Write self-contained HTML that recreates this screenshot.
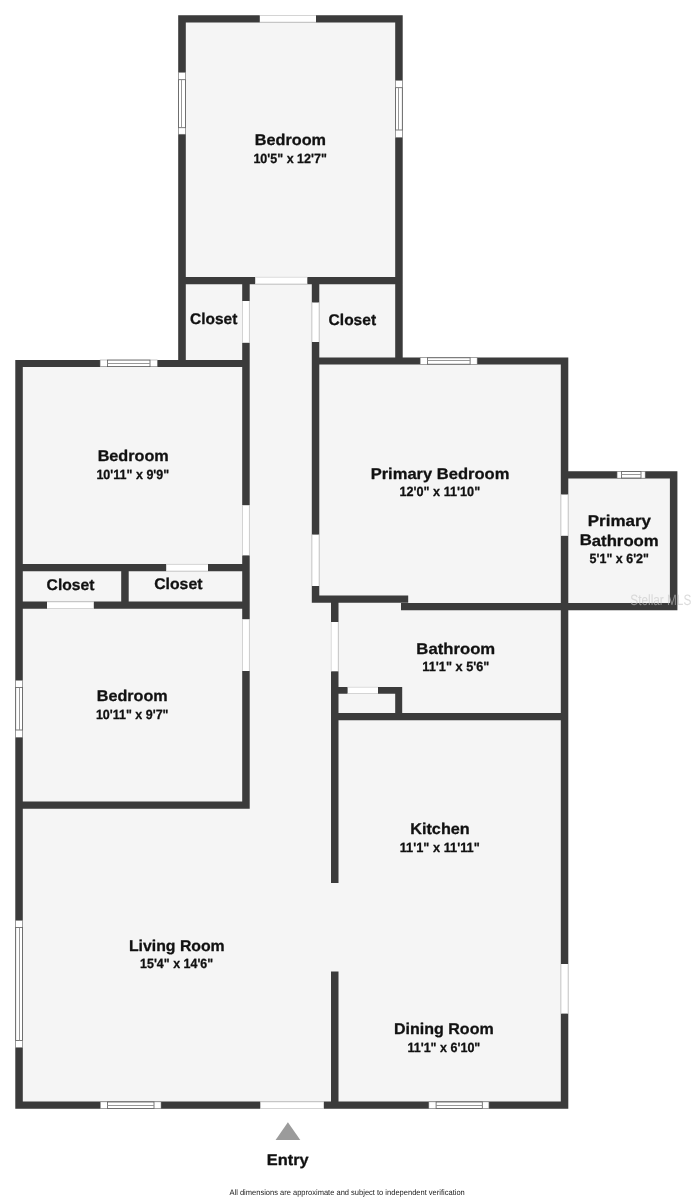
<!DOCTYPE html>
<html lang="en"><head><meta charset="utf-8"><title>Floor Plan</title>
<style>
html,body{margin:0;padding:0;background:#fff}
body{width:693px;height:1200px;overflow:hidden}
svg{display:block}
.t{font-family:"Liberation Sans","DejaVu Sans",sans-serif;font-weight:700;fill:#111;stroke:#111;stroke-width:.3px;stroke-linejoin:round}
.f{font-family:"Liberation Sans","DejaVu Sans",sans-serif;font-weight:400;fill:#222}
.wm{font-family:"Liberation Sans","DejaVu Sans",sans-serif;font-weight:400;fill:#c4c4c4;fill-opacity:.6}
</style></head><body>
<svg width="693" height="1200" viewBox="0 0 693 1200" shape-rendering="auto">
<rect width="693" height="1200" fill="#fff"/>
<polygon fill="#f5f5f5" points="178.2,15.2 402.4,15.2 402.4,357.4 568,357.4 568,471.2 677.1,471.2 677.1,610.3 568,610.3 568,1108.8 15.3,1108.8 15.3,360.0 178.2,360.0"/>
<path fill="#3b3b3b" d="M178.2 15.2H402.4V22.4H178.2ZM178.2 15.2H185.8V367.0H178.2ZM395.2 15.2H402.7V364.6H395.2ZM178.2 277.0H402.4V284.2H178.2ZM242.2 284.0H249.7V808.8H242.2ZM311.8 284.0H319.3V602.7H311.8ZM15.3 360.0H249.4V367.0H15.3ZM15.3 360.0H22.8V1108.8H15.3ZM15.3 564.1H249.4V571.3H15.3ZM15.3 601.6H249.4V608.8H15.3ZM121.2 564.1H128.7V608.8H121.2ZM15.3 801.6H249.5V808.8H15.3ZM311.8 357.4H568.0V364.6H311.8ZM560.8 357.4H568.3V1108.8H560.8ZM568.0 471.2H677.1V478.4H568.0ZM669.9 471.2H677.4V610.3H669.9ZM401.0 603.1H677.1V610.3H401.0ZM311.8 595.5H408.2V602.7H311.8ZM331.0 602.7H338.5V882.9H331.0ZM338.0 687.0H401.9V693.8H338.0ZM395.2 687.0H402.2V713.0H395.2ZM331.0 713.0H568.0V720.2H331.0ZM331.0 971.5H338.5V1108.8H331.0ZM15.3 1101.6H568.0V1108.8H15.3Z"/>
<rect x="259.8" y="15.2" width="56.2" height="7.2" fill="#fff"/>
<line x1="259.8" y1="15.5" x2="316.0" y2="15.5" stroke="#cfcfcf" stroke-width="0.7"/>
<line x1="259.8" y1="22.1" x2="316.0" y2="22.1" stroke="#cfcfcf" stroke-width="0.7"/>
<rect x="255.2" y="277.0" width="52.1" height="7.2" fill="#fff"/>
<line x1="255.2" y1="277.3" x2="307.3" y2="277.3" stroke="#cfcfcf" stroke-width="0.7"/>
<line x1="255.2" y1="283.9" x2="307.3" y2="283.9" stroke="#cfcfcf" stroke-width="0.7"/>
<rect x="242.2" y="301.0" width="7.5" height="41.8" fill="#fff"/>
<line x1="242.5" y1="301.0" x2="242.5" y2="342.8" stroke="#cfcfcf" stroke-width="0.7"/>
<line x1="249.4" y1="301.0" x2="249.4" y2="342.8" stroke="#cfcfcf" stroke-width="0.7"/>
<rect x="242.2" y="505.2" width="7.5" height="50.2" fill="#fff"/>
<line x1="242.5" y1="505.2" x2="242.5" y2="555.4" stroke="#cfcfcf" stroke-width="0.7"/>
<line x1="249.4" y1="505.2" x2="249.4" y2="555.4" stroke="#cfcfcf" stroke-width="0.7"/>
<rect x="242.2" y="619.2" width="7.5" height="51.8" fill="#fff"/>
<line x1="242.5" y1="619.2" x2="242.5" y2="671.0" stroke="#cfcfcf" stroke-width="0.7"/>
<line x1="249.4" y1="619.2" x2="249.4" y2="671.0" stroke="#cfcfcf" stroke-width="0.7"/>
<rect x="311.8" y="302.5" width="7.5" height="39.5" fill="#fff"/>
<line x1="312.1" y1="302.5" x2="312.1" y2="342.0" stroke="#cfcfcf" stroke-width="0.7"/>
<line x1="319.0" y1="302.5" x2="319.0" y2="342.0" stroke="#cfcfcf" stroke-width="0.7"/>
<rect x="311.8" y="534.6" width="7.5" height="51.4" fill="#fff"/>
<line x1="312.1" y1="534.6" x2="312.1" y2="586.0" stroke="#cfcfcf" stroke-width="0.7"/>
<line x1="319.0" y1="534.6" x2="319.0" y2="586.0" stroke="#cfcfcf" stroke-width="0.7"/>
<rect x="166.2" y="564.1" width="41.8" height="7.2" fill="#fff"/>
<line x1="166.2" y1="564.4" x2="208.0" y2="564.4" stroke="#cfcfcf" stroke-width="0.7"/>
<line x1="166.2" y1="571.0" x2="208.0" y2="571.0" stroke="#cfcfcf" stroke-width="0.7"/>
<rect x="47.0" y="601.6" width="46.8" height="7.2" fill="#fff"/>
<line x1="47.0" y1="601.9" x2="93.8" y2="601.9" stroke="#cfcfcf" stroke-width="0.7"/>
<line x1="47.0" y1="608.5" x2="93.8" y2="608.5" stroke="#cfcfcf" stroke-width="0.7"/>
<rect x="560.8" y="494.5" width="7.5" height="41.3" fill="#fff"/>
<line x1="561.1" y1="494.5" x2="561.1" y2="535.8" stroke="#cfcfcf" stroke-width="0.7"/>
<line x1="568.0" y1="494.5" x2="568.0" y2="535.8" stroke="#cfcfcf" stroke-width="0.7"/>
<rect x="560.8" y="964.0" width="7.5" height="49.6" fill="#fff"/>
<line x1="561.1" y1="964.0" x2="561.1" y2="1013.6" stroke="#cfcfcf" stroke-width="0.7"/>
<line x1="568.0" y1="964.0" x2="568.0" y2="1013.6" stroke="#cfcfcf" stroke-width="0.7"/>
<rect x="331.0" y="622.0" width="7.5" height="49.3" fill="#fff"/>
<line x1="331.3" y1="622.0" x2="331.3" y2="671.3" stroke="#cfcfcf" stroke-width="0.7"/>
<line x1="338.2" y1="622.0" x2="338.2" y2="671.3" stroke="#cfcfcf" stroke-width="0.7"/>
<rect x="347.6" y="687.0" width="30.4" height="6.8" fill="#fff"/>
<line x1="347.6" y1="687.3" x2="378.0" y2="687.3" stroke="#cfcfcf" stroke-width="0.7"/>
<line x1="347.6" y1="693.5" x2="378.0" y2="693.5" stroke="#cfcfcf" stroke-width="0.7"/>
<rect x="260.3" y="1101.6" width="63.5" height="7.2" fill="#fff"/>
<line x1="260.3" y1="1101.9" x2="323.8" y2="1101.9" stroke="#cfcfcf" stroke-width="0.7"/>
<line x1="260.3" y1="1108.5" x2="323.8" y2="1108.5" stroke="#cfcfcf" stroke-width="0.7"/>
<rect x="178.5" y="72.5" width="7.0" height="61.7" fill="#fff" stroke="#8a8a8a" stroke-width="0.5"/>
<rect x="178.6" y="79.7" width="6.8" height="48.0" fill="#fff" stroke="#5a5a5a" stroke-width="0.8"/>
<line x1="181.5" y1="79.7" x2="181.5" y2="127.7" stroke="#8c8c8c" stroke-width="0.9"/>
<rect x="395.5" y="80.5" width="6.9" height="56.9" fill="#fff" stroke="#8a8a8a" stroke-width="0.5"/>
<rect x="395.6" y="87.7" width="6.7" height="42.3" fill="#fff" stroke="#5a5a5a" stroke-width="0.8"/>
<line x1="398.5" y1="87.7" x2="398.5" y2="130.0" stroke="#8c8c8c" stroke-width="0.9"/>
<rect x="100.1" y="360.0" width="57.2" height="6.7" fill="#fff" stroke="#8a8a8a" stroke-width="0.5"/>
<rect x="107.4" y="360.1" width="42.6" height="6.5" fill="#fff" stroke="#5a5a5a" stroke-width="0.8"/>
<line x1="107.4" y1="363.5" x2="150.0" y2="363.5" stroke="#8c8c8c" stroke-width="0.9"/>
<rect x="15.6" y="680.4" width="6.9" height="56.9" fill="#fff" stroke="#8a8a8a" stroke-width="0.5"/>
<rect x="15.7" y="687.6" width="6.7" height="42.4" fill="#fff" stroke="#5a5a5a" stroke-width="0.8"/>
<line x1="19.5" y1="687.6" x2="19.5" y2="730.0" stroke="#8c8c8c" stroke-width="0.9"/>
<rect x="15.6" y="920.5" width="6.9" height="127.0" fill="#fff" stroke="#8a8a8a" stroke-width="0.5"/>
<rect x="15.7" y="927.6" width="6.7" height="113.0" fill="#fff" stroke="#5a5a5a" stroke-width="0.8"/>
<line x1="19.5" y1="927.6" x2="19.5" y2="1040.6" stroke="#8c8c8c" stroke-width="0.9"/>
<rect x="420.2" y="357.7" width="56.9" height="6.6" fill="#fff" stroke="#8a8a8a" stroke-width="0.5"/>
<rect x="427.4" y="357.8" width="42.7" height="6.4" fill="#fff" stroke="#5a5a5a" stroke-width="0.8"/>
<line x1="427.4" y1="360.5" x2="470.1" y2="360.5" stroke="#8c8c8c" stroke-width="0.9"/>
<rect x="617.1" y="471.5" width="28.0" height="6.6" fill="#fff" stroke="#8a8a8a" stroke-width="0.5"/>
<rect x="621.4" y="471.6" width="19.6" height="6.4" fill="#fff" stroke="#5a5a5a" stroke-width="0.8"/>
<line x1="621.4" y1="474.5" x2="641.0" y2="474.5" stroke="#8c8c8c" stroke-width="0.9"/>
<rect x="100.4" y="1101.9" width="60.6" height="6.6" fill="#fff" stroke="#8a8a8a" stroke-width="0.5"/>
<rect x="107.5" y="1102.0" width="46.5" height="6.4" fill="#fff" stroke="#5a5a5a" stroke-width="0.8"/>
<line x1="107.5" y1="1105.5" x2="154.0" y2="1105.5" stroke="#8c8c8c" stroke-width="0.9"/>
<rect x="428.9" y="1101.9" width="60.0" height="6.6" fill="#fff" stroke="#8a8a8a" stroke-width="0.5"/>
<rect x="436.1" y="1102.0" width="46.2" height="6.4" fill="#fff" stroke="#5a5a5a" stroke-width="0.8"/>
<line x1="436.1" y1="1105.5" x2="482.3" y2="1105.5" stroke="#8c8c8c" stroke-width="0.9"/>
<polygon fill="#9b9b9b" points="287.9,1122.2 300.3,1140 275.6,1140"/>
<g style="filter:grayscale(1)" text-rendering="geometricPrecision">
<text class="t" x="254.76" y="145.4" transform="rotate(0.02 254.8 145.4)" font-size="15.5" textLength="71.23" lengthAdjust="spacingAndGlyphs">Bedroom</text>
<text class="t" x="253.42" y="163.3" transform="rotate(0.02 253.4 163.3)" font-size="13.3" textLength="73.43" lengthAdjust="spacingAndGlyphs">10'5&quot; x 12'7&quot;</text>
<text class="t" x="190.04" y="324.2" transform="rotate(0.02 190.0 324.2)" font-size="15.5" textLength="47.29" lengthAdjust="spacingAndGlyphs">Closet</text>
<text class="t" x="328.60" y="324.7" transform="rotate(0.02 328.6 324.7)" font-size="15.5" textLength="47.49" lengthAdjust="spacingAndGlyphs">Closet</text>
<text class="t" x="97.67" y="461.3" transform="rotate(0.02 97.7 461.3)" font-size="15.5" textLength="71.09" lengthAdjust="spacingAndGlyphs">Bedroom</text>
<text class="t" x="96.42" y="478.6" transform="rotate(0.02 96.4 478.6)" font-size="13.3" textLength="72.81" lengthAdjust="spacingAndGlyphs">10'11&quot; x 9'9&quot;</text>
<text class="t" x="46.60" y="590.4" transform="rotate(0.02 46.6 590.4)" font-size="15.5" textLength="47.80" lengthAdjust="spacingAndGlyphs">Closet</text>
<text class="t" x="154.23" y="589.2" transform="rotate(0.02 154.2 589.2)" font-size="15.5" textLength="48.19" lengthAdjust="spacingAndGlyphs">Closet</text>
<text class="t" x="96.79" y="700.7" transform="rotate(0.02 96.8 700.7)" font-size="15.5" textLength="70.91" lengthAdjust="spacingAndGlyphs">Bedroom</text>
<text class="t" x="95.90" y="718.5" transform="rotate(0.02 95.9 718.5)" font-size="13.3" textLength="72.61" lengthAdjust="spacingAndGlyphs">10'11&quot; x 9'7&quot;</text>
<text class="t" x="370.65" y="479.3" transform="rotate(0.02 370.6 479.3)" font-size="15.5" textLength="138.71" lengthAdjust="spacingAndGlyphs">Primary Bedroom</text>
<text class="t" x="399.40" y="496.3" transform="rotate(0.02 399.4 496.3)" font-size="13.3" textLength="80.79" lengthAdjust="spacingAndGlyphs">12'0&quot; x 11'10&quot;</text>
<text class="t" x="587.76" y="525.7" transform="rotate(0.02 587.8 525.7)" font-size="15.5" textLength="63.21" lengthAdjust="spacingAndGlyphs">Primary</text>
<text class="t" x="579.66" y="545.5" transform="rotate(0.02 579.7 545.5)" font-size="15.5" textLength="79.10" lengthAdjust="spacingAndGlyphs">Bathroom</text>
<text class="t" x="589.59" y="562.7" transform="rotate(0.02 589.6 562.7)" font-size="13.3" textLength="59.39" lengthAdjust="spacingAndGlyphs">5'1&quot; x 6'2&quot;</text>
<text class="t" x="416.36" y="653.8" transform="rotate(0.02 416.4 653.8)" font-size="15.5" textLength="78.81" lengthAdjust="spacingAndGlyphs">Bathroom</text>
<text class="t" x="422.37" y="671.0" transform="rotate(0.02 422.4 671.0)" font-size="13.3" textLength="67.06" lengthAdjust="spacingAndGlyphs">11'1&quot; x 5'6&quot;</text>
<text class="t" x="410.27" y="834.3" transform="rotate(0.02 410.3 834.3)" font-size="15.5" textLength="59.44" lengthAdjust="spacingAndGlyphs">Kitchen</text>
<text class="t" x="399.70" y="851.5" transform="rotate(0.02 399.7 851.5)" font-size="13.3" textLength="80.09" lengthAdjust="spacingAndGlyphs">11'1&quot; x 11'11&quot;</text>
<text class="t" x="128.95" y="951.1" transform="rotate(0.02 129.0 951.1)" font-size="15.5" textLength="95.74" lengthAdjust="spacingAndGlyphs">Living Room</text>
<text class="t" x="140.06" y="967.9" transform="rotate(0.02 140.1 967.9)" font-size="13.3" textLength="73.16" lengthAdjust="spacingAndGlyphs">15'4&quot; x 14'6&quot;</text>
<text class="t" x="394.04" y="1034.0" transform="rotate(0.02 394.0 1034.0)" font-size="15.5" textLength="99.65" lengthAdjust="spacingAndGlyphs">Dining Room</text>
<text class="t" x="407.43" y="1051.6" transform="rotate(0.02 407.4 1051.6)" font-size="13.3" textLength="72.87" lengthAdjust="spacingAndGlyphs">11'1&quot; x 6'10&quot;</text>
<text class="t" x="266.81" y="1165.2" transform="rotate(0.02 266.8 1165.2)" font-size="15.5" textLength="41.94" lengthAdjust="spacingAndGlyphs">Entry</text>
<text class="f" x="229.49" y="1195.2" transform="rotate(0.02 229.5 1195.2)" font-size="7.9" textLength="235.31" lengthAdjust="spacingAndGlyphs">All dimensions are approximate and subject to independent verification</text>
<text class="wm" x="630.3" y="605.4" font-size="15" textLength="61" lengthAdjust="spacingAndGlyphs">Stellar MLS</text>
</g>
</svg>
</body></html>
